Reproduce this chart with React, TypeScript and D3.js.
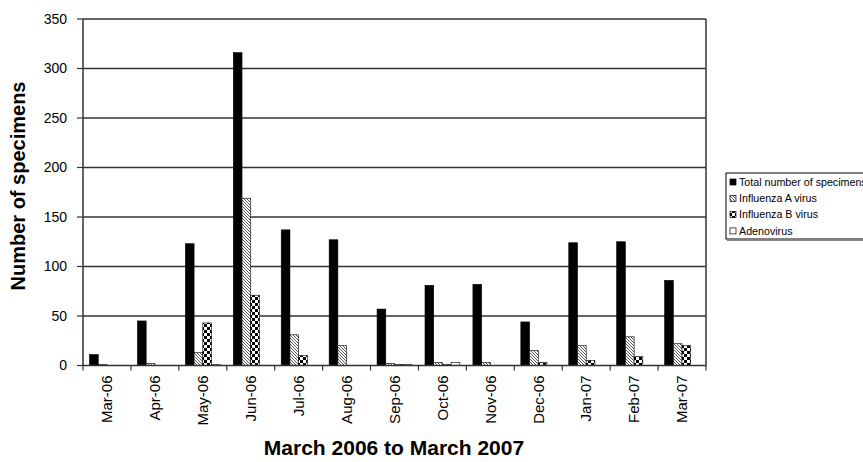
import React from "react";
import * as d3 from "d3";

const categories = ["Mar-06","Apr-06","May-06","Jun-06","Jul-06","Aug-06","Sep-06","Oct-06","Nov-06","Dec-06","Jan-07","Feb-07","Mar-07"];
const totalSpecimens = [11, 45, 123, 316, 137, 127, 57, 81, 82, 44, 124, 125, 86];
const influenzaA = [1, 2, 13, 169, 31, 20, 2, 3, 3, 15, 20, 29, 22];
const influenzaB = [0, 0, 43, 71, 10, 0, 1, 1, 0, 3, 5, 9, 20];
const adenovirus = [0, 0, 1, 0, 0, 0, 1, 3, 0, 0, 0, 0, 0];
const seriesNames = ["Total number of specimens", "Influenza A virus", "Influenza B virus", "Adenovirus"];
const yTicks = [0, 50, 100, 150, 200, 250, 300, 350];

const W = 863, H = 462;
const L = 83, R = 706, T = 19, B = 365.5;
const fills = ["#000", "url(#hatchA)", "url(#checkB)", "#fff"];

export default function App() {
  const x = d3.scaleBand<string>().domain(categories).range([L, R]).paddingInner(0).paddingOuter(0);
  const y = d3.scaleLinear().domain([0, 350]).range([B, T]);
  const allSeries = [totalSpecimens, influenzaA, influenzaB, adenovirus];
  const bw = x.bandwidth() / 5.5;
  const off = (x.bandwidth() - 4 * bw) / 2;
  const font = "Liberation Sans, Arial, sans-serif";
  return (
    <svg width={W} height={H} style={{ position: "absolute", left: 0, top: 0 }} fontFamily={font}>
      <defs>
        <pattern id="hatchA" width="3" height="3" patternUnits="userSpaceOnUse">
          <rect width="3" height="3" fill="#fff" />
          <path d="M-1,-1 L4,4 M-1,2 L1,4 M2,-1 L4,1" stroke="#444" strokeWidth="0.9" />
        </pattern>
        <pattern id="checkB" width="6" height="6" patternUnits="userSpaceOnUse">
          <rect width="6" height="6" fill="#fff" />
          <rect x="0" y="0" width="3" height="3" fill="#000" />
          <rect x="3" y="3" width="3" height="3" fill="#000" />
        </pattern>
      </defs>
      <rect width={W} height={H} fill="#fff" />
      {yTicks.map((t) => (
        <g key={t}>
          {t > 0 && <line x1={L} x2={R} y1={y(t)} y2={y(t)} stroke="#333" strokeWidth={1.5} />}
          <line x1={L - 6} x2={L} y1={y(t)} y2={y(t)} stroke="#333" strokeWidth={1.2} />
          <text x={L - 16} y={y(t)} dy="0.35em" textAnchor="end" fontSize={14} fill="#000">{t}</text>
        </g>
      ))}
      <line x1={R} x2={R} y1={T} y2={B} stroke="#333" strokeWidth={1.5} />
      {allSeries.map((vals, si) =>
        vals.map((v, ci) => (
          v > 0 ? (
            <rect key={si + "-" + ci}
              x={(x(categories[ci]) as number) + off + si * bw}
              y={y(v)} width={bw} height={B - y(v)}
              fill={fills[si]} stroke="#000" strokeWidth={0.6} />
          ) : null
        ))
      )}
      <line x1={L} x2={L} y1={T} y2={B} stroke="#333" strokeWidth={1.5} />
      <line x1={L} x2={R} y1={B} y2={B} stroke="#333" strokeWidth={1.5} />
      {categories.concat(["_end"]).map((c, i) => {
        const xx = L + i * x.bandwidth();
        return <line key={"t" + i} x1={xx} x2={xx} y1={B} y2={B + 5} stroke="#333" strokeWidth={1.2} />;
      })}
      {categories.map((c) => {
        const cx = (x(c) as number) + x.bandwidth() / 2;
        return (
          <text key={c} transform={`translate(${cx},${B + 10}) rotate(-90)`} dy="0.35em" textAnchor="end" fontSize={15} fill="#000">{c}</text>
        );
      })}
      <text x={394} y={455} textAnchor="middle" fontSize={21} fontWeight="bold" fill="#000">March 2006 to March 2007</text>
      <text transform={`translate(25,186) rotate(-90)`} textAnchor="middle" fontSize={20} fontWeight="bold" fill="#000">Number of specimens</text>
      <g>
        <rect x={726} y={173} width={150} height={66} fill="#fff" stroke="#000" strokeWidth={1} />
        <line x1={727} x2={876} y1={240.5} y2={240.5} stroke="#888" strokeWidth={1} />
        {seriesNames.map((n, i) => (
          <g key={n}>
            <rect x={730} y={179 + i * 16.3} width={6} height={6} fill={fills[i]} stroke="#000" strokeWidth={0.7} />
            <text x={739} y={182 + i * 16.3} dy="0.35em" fontSize={10.7} fill="#000">{n}</text>
          </g>
        ))}
      </g>
    </svg>
  );
}
